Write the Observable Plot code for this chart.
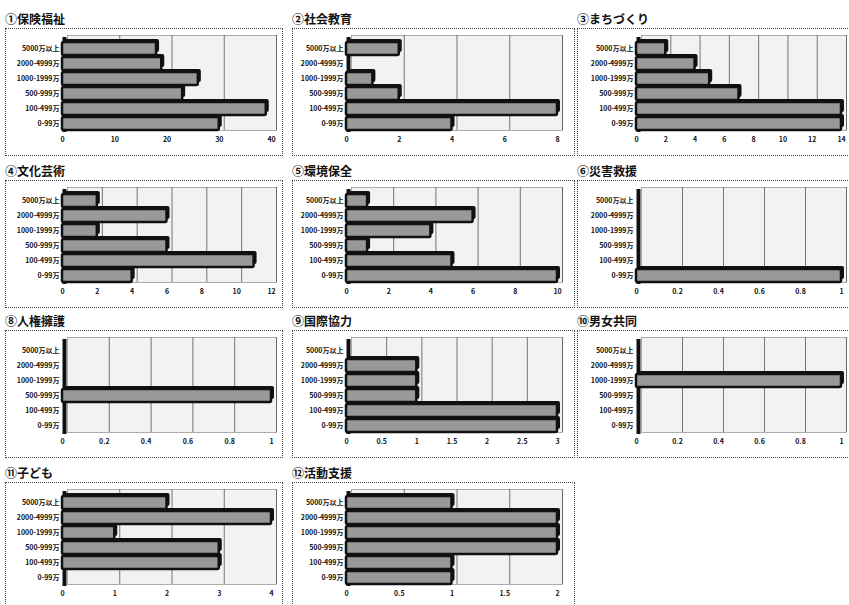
<!DOCTYPE html>
<html><head><meta charset="utf-8">
<script src="https://cdn.jsdelivr.net/npm/d3@7"></script>
<script src="https://cdn.jsdelivr.net/npm/@observablehq/plot@0.6"></script>
<style>
html,body{margin:0;padding:0;background:#fff;width:849px;height:605px;overflow:hidden;font-family:"Noto Sans CJK JP","Noto Sans",sans-serif;}
.title{position:absolute;font-size:12px;font-weight:bold;color:#111;white-space:nowrap;line-height:14px;}
.box{position:absolute;border:1px dotted #444;background:#fff;overflow:hidden;}
</style></head>
<body>
<div id="root"></div>
<script>
const categories = ["5000万以上","2000-4999万","1000-1999万","500-999万","100-499万","0-99万"];
const titles = ["①保険福祉","②社会教育","③まちづくり","④文化芸術","⑤環境保全","⑥災害救援","⑧人権擁護","⑨国際協力","⑩男女共同","⑪子ども","⑫活動支援"];
// values in category order (top to bottom)
const hokenFukushi = [18,19,26,23,39,30];
const shakaiKyoiku = [2,0,1,2,8,4];
const machizukuri = [2,4,5,7,14,14];
const bunkaGeijutsu = [2,6,2,6,11,4];
const kankyoHozen = [1,6,4,1,5,10];
const saigaiKyuen = [0,0,0,0,0,1];
const jinkenYogo = [0,0,0,1,0,0];
const kokusaiKyoryoku = [0,1,1,1,3,3];
const danjoKyodo = [0,0,1,0,0,0];
const kodomo = [2,4,1,3,3,0];
const katsudoShien = [1,2,2,2,1,1];
const seriesList = [hokenFukushi,shakaiKyoiku,machizukuri,bunkaGeijutsu,kankyoHozen,saigaiKyuen,jinkenYogo,kokusaiKyoryoku,danjoKyodo,kodomo,katsudoShien];
// axis ticks per panel
const ticks1 = [0,10,20,30,40];
const ticks2 = [0,2,4,6,8];
const ticks3 = [0,2,4,6,8,10,12,14];
const ticks4 = [0,2,4,6,8,10,12];
const ticks5 = [0,2,4,6,8,10];
const ticksUnit = [0,0.2,0.4,0.6,0.8,1];
const ticks9 = [0,0.5,1,1.5,2,2.5,3];
const ticks11 = [0,1,2,3,4];
const ticks12 = [0,0.5,1,1.5,2];
const tickList = [ticks1,ticks2,ticks3,ticks4,ticks5,ticksUnit,ticksUnit,ticks9,ticksUnit,ticks11,ticks12];

const colLeft = [5,292,577];
const colWidth = [276,281,281];
const colMarginLeft = [56,53,58];
const colMarginRight = [11,17,18];
const rowTop = [28,180,330,482];
const boxH = 126;
const root = document.getElementById("root");

seriesList.forEach((vals,i)=>{
  const col = i%3, row = Math.floor(i/3);
  const ticks = tickList[i];
  const max = ticks[ticks.length-1];
  const data = categories.map((c,k)=>({c, v: vals[k]}));
  const title = document.createElement("div");
  title.className="title";
  title.style.left = colLeft[col]+"px";
  title.style.top = (rowTop[row]-16)+"px";
  title.textContent = titles[i];
  root.appendChild(title);
  const box = document.createElement("div");
  box.className="box";
  box.style.left = colLeft[col]+"px";
  box.style.top = rowTop[row]+"px";
  box.style.width = colWidth[col]+"px";
  box.style.height = boxH+"px";
  const fmt = d => String(d);
  const chart = Plot.plot({
    width: colWidth[col], height: boxH,
    marginLeft: colMarginLeft[col], marginRight: colMarginRight[col], marginTop: 9, marginBottom: 22,
    style:{fontFamily:'"Noto Sans CJK JP","Noto Sans",sans-serif', fontSize:"7px", color:"#111", background:"transparent"},
    x:{domain:[0,max], ticks: ticks, tickFormat: fmt, tickSize:0, tickPadding:4, label:null},
    y:{domain:categories, padding:0.16, tickSize:0, tickPadding:3, label:null},
    marks:[
      Plot.frame({fill:"#f2f2f2", stroke:"#999", strokeWidth:0.8, dx:5, dy:-3}),
      Plot.ruleX(ticks.slice(1), {stroke:"#555", strokeWidth:0.8, dx:5, dy:-3}),
      Plot.ruleX([0], {stroke:"#111", strokeWidth:4, dx:2, dy:-1}),
      Plot.barX(data.filter(d=>d.v>0), {x:"v", y:"c", fill:"#111", dx:3, dy:-3, rx:2}),
      Plot.barX(data.filter(d=>d.v>0), {x:"v", y:"c", fill:"#999", stroke:"#111", strokeWidth:2.5, rx:1.5}),
      Plot.axisX({ticks: ticks, tickFormat: fmt, tickSize:0, tickPadding:4, fontSize:7, fontWeight:"bold"}),
      Plot.axisY({tickSize:0, tickPadding:3, fontSize:7, fontWeight:"bold"})
    ]
  });
  box.appendChild(chart);
  root.appendChild(box);
});
</script>
</body></html>
